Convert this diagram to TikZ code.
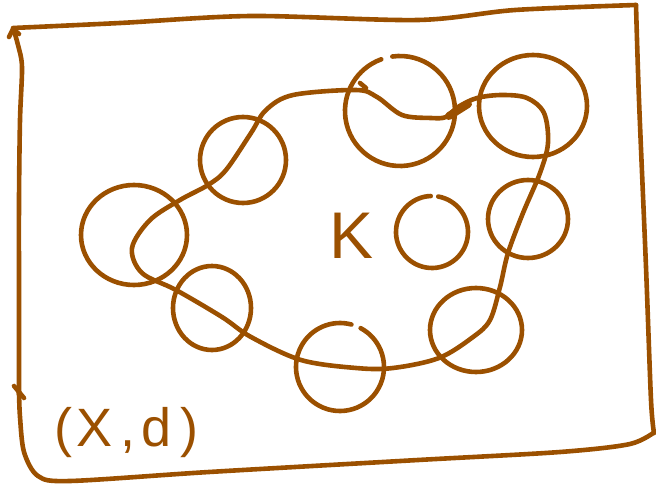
\documentclass[tikz,border=0pt]{standalone}
\usepackage{fontspec}
\setmainfont{Liberation Sans}
\definecolor{ink}{RGB}{155,80,0}
\begin{document}
\begin{tikzpicture}[x=1pt,y=-1pt,
  pen/.style={draw=ink,line width=4.6pt,line cap=round,line join=round},
  lbl/.style={text=ink,inner sep=0pt}]
\useasboundingbox (0,0) rectangle (656,487);
% frame
\draw[pen] plot[smooth,tension=0.5] coordinates {(13,28) (120,23) (251,16) (418,20) (515,10) (636,5)};
\draw[pen] plot[smooth,tension=0.5] coordinates {(636,5) (639,100) (646,267) (651,400) (654,433)};
\draw[pen] plot[smooth,tension=0.5] coordinates {(656,431) (630,444) (560,452) (418,460) (209,472) (70,481) (38,476) (24,452) (20,417) (19,392)};
\draw[pen] plot[smooth,tension=0.5] coordinates {(19,395) (19,300) (19,200) (20,120) (22,67) (18,45) (14,31)};
\draw[pen] (9,37) -- (13,29) -- (19,34);
\draw[pen] (14,386) -- (24,398);
% balls
\draw[pen] (134,235) ellipse [x radius=53,y radius=50];
\draw[pen] (243,160) ellipse [x radius=43,y radius=43];
\draw[pen] (400,111) ++(262:55) arc [start angle=262,end angle=610,radius=55];
\draw[pen] (533,106) ellipse [x radius=54,y radius=51];
\draw[pen] (528,219) ellipse [x radius=40,y radius=39];
\draw[pen] (476,330) ellipse [x radius=46,y radius=42];
\draw[pen] (340,367) ++(298:44) arc [start angle=298,end angle=645,radius=44];
\draw[pen] (212,308) ellipse [x radius=39,y radius=42];
\draw[pen] (432,232) ++(280:36) arc [start angle=280,end angle=628,radius=36];
% loop
\draw[pen] plot[smooth cycle,tension=0.55] coordinates {
 (356,90) (293,95) (266,110) (251,133) (226,170) (208,185) (180,200) (150,220)
 (132,248) (142,273) (176,290) (222,317) (251,337) (301,360) (356,368) (393,368)
 (439,358) (473,337) (490,320) (500,287) (508,253) (523,213) (540,173) (548,143)
 (544,113) (527,98) (502,95) (477,98) (458,107) (446,117) (431,118) (402,115)
 (377,97)};
\draw[pen] (360,83) -- (366,88);
\draw[draw=ink,line width=8pt,line cap=round] (449,116) -- (468,104);
% labels
\node[lbl,font=\fontsize{66}{66}\selectfont] (K) at (352,236) {K};
\node[lbl,font=\fontsize{54}{54}\selectfont,anchor=west] (X) at (54,433) {(\kern4ptX\kern8pt,\kern6ptd\kern9pt)};
\end{tikzpicture}
\end{document}
